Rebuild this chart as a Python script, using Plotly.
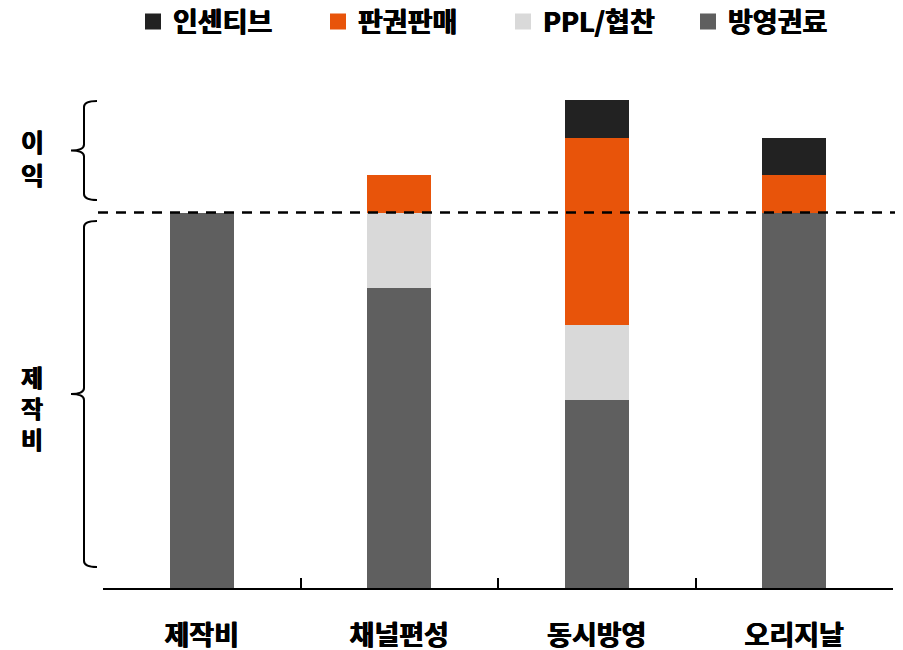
import plotly.graph_objects as go

categories = ["제작비", "채널편성", "동시방영", "오리지날"]
series_names = ["방영권료", "PPL/협찬", "판권판매", "인센티브"]
broadcast_fee = [100, 80, 50, 100]
ppl = [0, 20, 20, 0]
copyright_sales = [0, 10, 50, 10]
incentive = [0, 0, 10, 10]
series_values = [broadcast_fee, ppl, copyright_sales, incentive]
colors = ["#5F5F5F", "#D9D9D9", "#E8540A", "#222222"]
legend_order = ["인센티브", "판권판매", "PPL/협찬", "방영권료"]
cost_level = 100
side_labels = ["이익", "제작비"]

FONT = "Noto Sans CJK KR"
W = "bold"
HEAVY = "0.5px 0 0 black, -0.5px 0 0 black"

# page body has an 8px margin: figure drawn at (8, 8)
OFF = 8
FW, FH = 903 - OFF, 650 - OFF

fig = go.Figure()
for name, vals, col in zip(series_names, series_values, colors):
    fig.add_trace(go.Bar(x=categories, y=vals, name=name, marker=dict(color=col, line=dict(width=0)),
                         width=0.324, showlegend=False))

# legend entries
cmap = dict(zip(series_names, colors))
for name in legend_order:
    fig.add_trace(go.Scatter(x=[None], y=[None], mode="markers", name=name,
                             marker=dict(symbol="square", size=16, color=cmap[name])))

# screen-pixel helpers (plot area on screen: x 103..893, y 100..588)
L, R, T, B = 103, 893, 100, 588
def px(x):
    return (x - L) / (R - L)
def py(y):
    return (B - y) / (B - T)

def brace(ytop, ybot, xv=84, xt=97, xm=71, r=6):
    ymid = (ytop + ybot) / 2
    p = (f"M {px(xt)},{py(ytop)} Q {px(xv)},{py(ytop)} {px(xv)},{py(ytop + r)} "
         f"L {px(xv)},{py(ymid - r)} Q {px(xv)},{py(ymid)} {px(xm)},{py(ymid)} "
         f"Q {px(xv)},{py(ymid)} {px(xv)},{py(ymid + r)} "
         f"L {px(xv)},{py(ybot - r)} Q {px(xv)},{py(ybot)} {px(xt)},{py(ybot)}")
    return dict(type="path", path=p, xref="paper", yref="paper",
                line=dict(color="black", width=2))

shapes = [
    dict(type="line", xref="paper", yref="y", x0=px(98), x1=px(901), y0=cost_level, y1=cost_level,
         line=dict(color="black", width=2.5, dash="10px,8px")),
    brace(101, 200),
    brace(221, 567),
]

annotations = [
    dict(text="<br>".join(list(side_labels[0])), x=px(32), y=py(157), xref="paper", yref="paper",
         showarrow=False, font=dict(family=FONT, size=25, color="black", weight=W, shadow=HEAVY),
         xanchor="center", yanchor="middle"),
    dict(text="<br>".join(list(side_labels[1])), x=px(32), y=py(407), xref="paper", yref="paper",
         showarrow=False, font=dict(family=FONT, size=24, color="black", weight=W, shadow=HEAVY),
         xanchor="center", yanchor="middle"),
]

fig.update_layout(
    width=FW, height=FH,
    margin=dict(l=L - OFF, r=903 - R, t=T - OFF, b=650 - B, autoexpand=False),
    barmode="stack",
    plot_bgcolor="white", paper_bgcolor="white",
    font=dict(family=FONT, color="black"),
    shapes=shapes, annotations=annotations,
    legend=dict(orientation="h", x=px(503), xanchor="center", y=py(22), yanchor="middle",
                traceorder="normal",
                font=dict(family=FONT, size=27, color="black", weight=W, shadow=HEAVY),
                entrywidth=140, entrywidthmode="pixels", itemwidth=30, bgcolor="rgba(0,0,0,0)"),
    xaxis=dict(type="category", range=[-0.5, 3.5], showline=True, linecolor="black", linewidth=2,
               ticks="inside", tickson="boundaries", ticklen=10, tickwidth=2, tickcolor="black",
               showgrid=False, tickfont=dict(family=FONT, size=27, color="black", weight=W, shadow=HEAVY),
               ticklabelstandoff=23, fixedrange=True, automargin=False),
    yaxis=dict(range=[0, 130], visible=False, showgrid=False, fixedrange=True, automargin=False),
)

fig.write_html("out.html")
